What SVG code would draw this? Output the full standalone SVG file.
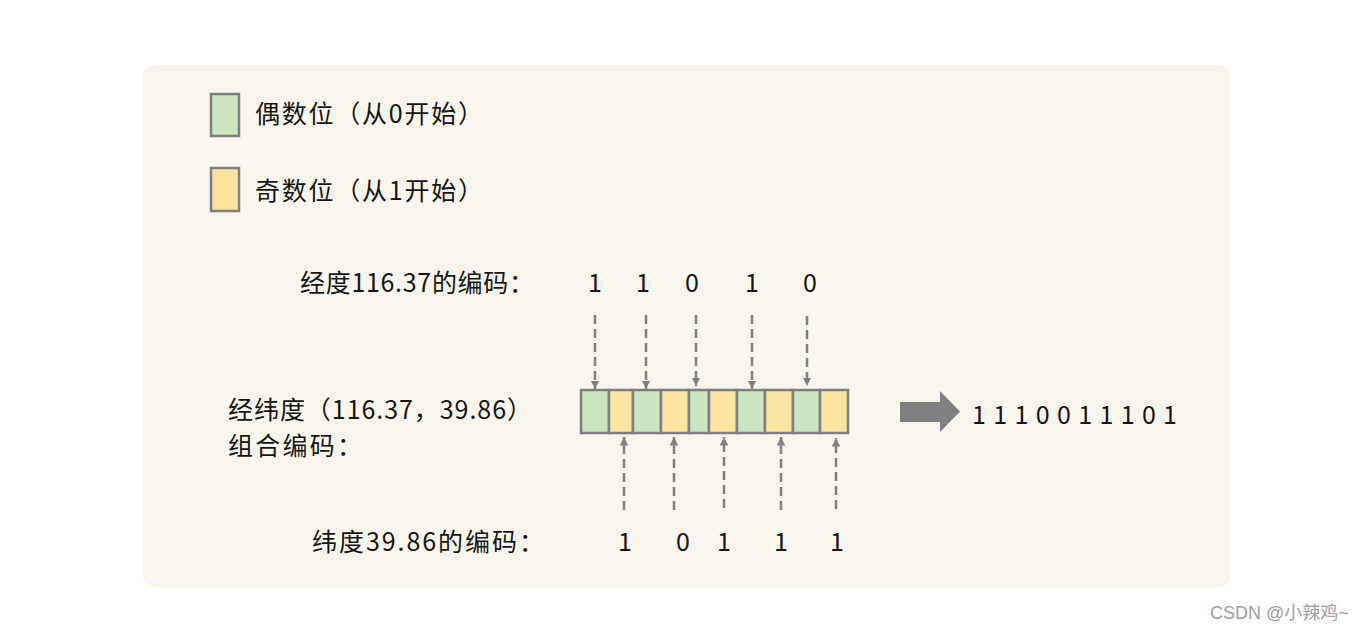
<svg xmlns="http://www.w3.org/2000/svg" width="1368" height="632" viewBox="0 0 1368 632">
<defs>
<style>
.t{font-family:"Noto Sans CJK SC","Noto Sans",sans-serif;font-size:25px;fill:#151515}
.g{fill:#cbe5c1;stroke:#7f7f7f;stroke-width:2.5}
.y{fill:#fbe4a2;stroke:#7f7f7f;stroke-width:2.5}
.d{stroke:#808080;stroke-width:2.5;stroke-dasharray:9 5;fill:none}
</style>
<marker id="ah" viewBox="0 0 10 10" refX="10" refY="5" markerWidth="3.4" markerHeight="3.4" markerUnits="strokeWidth" orient="auto">
<path d="M0,0 L10,5 L0,10 z" fill="#808080"/>
</marker>
</defs>
<rect x="0" y="0" width="1368" height="632" fill="#ffffff"/>
<rect x="143" y="65" width="1087" height="522" rx="11" fill="#f9f7ed"/>
<g id="legend-even">
<rect class="g" x="211" y="94" width="28" height="42"/>
<text class="t" x="255" y="123" textLength="228" lengthAdjust="spacing">偶数位（从0开始）</text>
</g>
<g id="legend-odd">
<rect class="y" x="211" y="168" width="28" height="43"/>
<text class="t" x="255" y="200" textLength="228" lengthAdjust="spacing">奇数位（从1开始）</text>
</g>
<g id="label-lon">
<text class="t" x="300" y="292" textLength="234" lengthAdjust="spacing">经度116.37的编码：</text>
</g>
<g id="label-combined">
<text class="t" x="228" y="419" textLength="304" lengthAdjust="spacing">经纬度（116.37，39.86）</text>
<text class="t" x="228" y="455" textLength="134" lengthAdjust="spacing">组合编码：</text>
</g>
<g id="label-lat">
<text class="t" x="312" y="551" textLength="232" lengthAdjust="spacing">纬度39.86的编码：</text>
</g>
<g id="lon-bits" class="t" text-anchor="middle">
<text x="595" y="292">1</text>
<text x="643" y="292">1</text>
<text x="692" y="292">0</text>
<text x="752" y="292">1</text>
<text x="810" y="292">0</text>
</g>
<g id="lat-bits" class="t" text-anchor="middle">
<text x="625" y="551">1</text>
<text x="683" y="551">0</text>
<text x="724" y="551">1</text>
<text x="781" y="551">1</text>
<text x="837" y="551">1</text>
</g>
<g id="combined-bar">
<rect class="g" x="581" y="390" width="28" height="43"/>
<rect class="y" x="609" y="390" width="24" height="43"/>
<rect class="g" x="633" y="390" width="28" height="43"/>
<rect class="y" x="661" y="390" width="28" height="43"/>
<rect class="g" x="689" y="390" width="20" height="43"/>
<rect class="y" x="709" y="390" width="28" height="43"/>
<rect class="g" x="737" y="390" width="28" height="43"/>
<rect class="y" x="765" y="390" width="28" height="43"/>
<rect class="g" x="793" y="390" width="27" height="43"/>
<rect class="y" x="820" y="390" width="28" height="43"/>
</g>
<g id="connectors">
<line class="d" x1="595" y1="315" x2="595" y2="389" marker-end="url(#ah)"/>
<line class="d" x1="646" y1="315" x2="646" y2="389" marker-end="url(#ah)"/>
<line class="d" x1="696" y1="315" x2="696" y2="386" marker-end="url(#ah)"/>
<line class="d" x1="752" y1="315" x2="752" y2="389" marker-end="url(#ah)"/>
<line class="d" x1="807" y1="316" x2="807" y2="386" marker-end="url(#ah)"/>
<line class="d" x1="624" y1="510" x2="624" y2="437" marker-end="url(#ah)"/>
<line class="d" x1="674" y1="510" x2="674" y2="437" marker-end="url(#ah)"/>
<line class="d" x1="724" y1="508" x2="724" y2="437" marker-end="url(#ah)"/>
<line class="d" x1="781" y1="510" x2="781" y2="437" marker-end="url(#ah)"/>
<line class="d" x1="836" y1="509" x2="836" y2="438" marker-end="url(#ah)"/>
</g>
<g id="big-arrow">
<polygon points="900,402 940,402 940,391 960,411.5 940,432 940,422 900,422" fill="#808080"/>
</g>
<g id="result">
<text class="t" x="972" y="424" textLength="205" lengthAdjust="spacing">1110011101</text>
</g>
<text x="1210" y="619" font-family="'Liberation Sans','Noto Sans CJK SC',sans-serif" font-size="18" fill="#a0a0a0">CSDN @小辣鸡~</text>
</svg>
